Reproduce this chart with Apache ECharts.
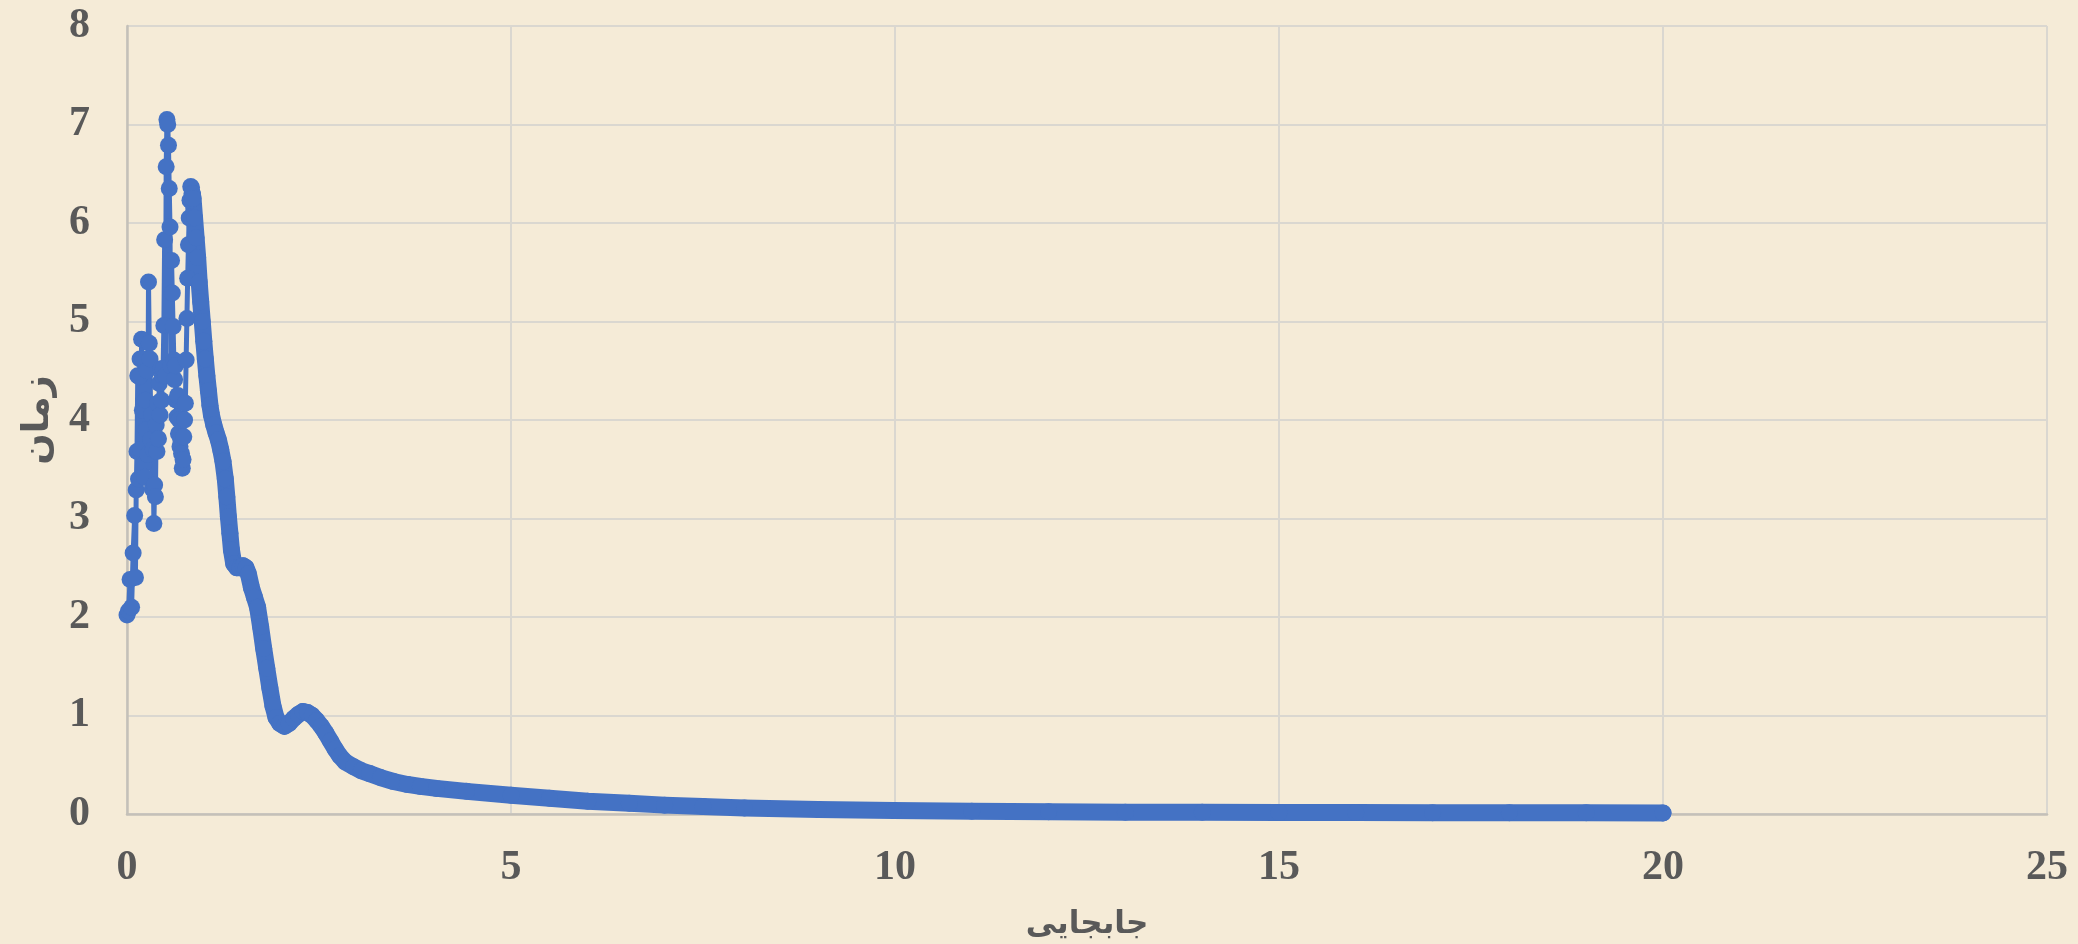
<!DOCTYPE html>
<html>
<head>
<meta charset="utf-8">
<script src="https://cdn.jsdelivr.net/npm/echarts@6/dist/echarts.min.js"></script>
<style>
  html, body { margin: 0; padding: 0; background: #F5EBD7; overflow: hidden; }
  #chart { width: 2078px; height: 944px; }
</style>
</head>
<body>
<div id="chart"></div>
<script>
// Axis titles
const xTitle = 'جابجایی';
const yTitle = 'زمان';

// Early oscillating part (displacement, time)
const oscX = [0.00,0.02,0.04,0.06,0.08,0.10,0.11,0.12,0.13,0.14,0.15,0.16,0.17,0.18,0.19,0.20,0.21,0.22,0.23,0.24,0.25,0.26,0.27,0.28,0.29,0.30,0.31,0.32,0.33,0.34,0.35,0.36,0.37,0.38,0.39,0.40,0.41,0.42,0.43,0.44,0.45,0.46,0.47,0.48,0.49,0.50,0.51,0.52,0.53,0.54,0.55,0.56,0.57,0.58,0.59,0.60,0.61,0.62,0.63,0.64,0.65,0.66,0.67,0.68,0.69,0.70,0.71,0.72,0.73,0.74,0.75,0.76,0.77,0.78,0.79,0.80,0.81,0.82,0.83,0.84,0.85];
const oscY = [2.02,2.06,2.38,2.10,2.65,3.03,2.40,3.29,3.68,4.45,3.40,4.44,4.62,3.70,4.82,4.10,4.62,3.55,3.42,4.20,3.90,4.50,3.65,5.40,4.78,4.62,3.80,4.05,3.30,3.70,2.95,3.34,3.22,3.95,3.68,4.17,3.81,4.37,4.05,4.52,4.20,4.45,4.52,4.96,5.83,4.45,6.57,7.05,7.00,6.79,6.35,5.96,4.55,5.62,5.29,4.95,4.61,4.41,4.55,4.20,4.03,4.25,3.86,4.00,3.73,3.80,3.66,3.51,3.60,3.83,4.00,4.17,4.61,5.03,5.44,5.78,6.05,6.23,6.37,6.36,6.30];

// Smooth decaying part (displacement, time)
const decX = [0.85,0.86,0.88,0.90,0.92,0.94,0.96,0.98,1.00,1.02,1.04,1.06,1.08,1.10,1.13,1.16,1.19,1.22,1.25,1.28,1.30,1.32,1.34,1.36,1.39,1.43,1.47,1.51,1.55,1.58,1.62,1.66,1.70,1.74,1.78,1.82,1.86,1.90,1.94,1.99,2.05,2.11,2.17,2.23,2.29,2.35,2.41,2.47,2.53,2.59,2.65,2.71,2.77,2.84,2.95,3.05,3.16,3.30,3.47,3.65,3.82,4.03,4.42,5.00,5.50,6.00,6.54,7.00,7.50,8.04,9.00,9.98,11.00,12.00,13.00,14.00,15.00,16.00,17.00,18.00,19.00,20.00];
const decY = [6.30,6.25,6.05,5.85,5.65,5.40,5.20,5.00,4.80,4.62,4.45,4.30,4.15,4.05,3.95,3.87,3.80,3.70,3.58,3.40,3.22,3.02,2.85,2.68,2.54,2.50,2.50,2.52,2.50,2.44,2.30,2.20,2.10,1.90,1.68,1.48,1.28,1.10,0.98,0.92,0.89,0.92,0.97,1.01,1.04,1.03,1.00,0.95,0.89,0.82,0.74,0.66,0.59,0.53,0.48,0.44,0.41,0.37,0.33,0.30,0.28,0.26,0.23,0.19,0.16,0.13,0.11,0.09,0.075,0.06,0.045,0.035,0.027,0.022,0.019,0.017,0.015,0.014,0.013,0.012,0.012,0.011];

const BLUE = '#4472C4';
const LABEL = '#595959';

const chart = echarts.init(document.getElementById('chart'), null, { renderer: 'canvas' });

const axisLabelStyle = {
  color: LABEL,
  fontFamily: '"Liberation Serif", "Times New Roman", serif',
  fontWeight: 'bold',
  fontSize: 42
};

chart.setOption({
  backgroundColor: '#F5EBD7',
  animation: false,
  grid: { left: 127, right: 31, top: 26, bottom: 130, containLabel: false, outerBoundsMode: 'none' },
  xAxis: {
    type: 'value',
    min: 0, max: 25, interval: 5,
    name: xTitle,
    nameLocation: 'middle',
    nameGap: 95,
    nameTextStyle: { color: LABEL, fontFamily: '"DejaVu Sans", sans-serif', fontWeight: 'bold', fontSize: 31 },
    axisLine: { show: true, onZero: false, lineStyle: { color: '#C4C0B8', width: 2.5 } },
    axisTick: { show: false },
    axisLabel: Object.assign({ margin: 33 }, axisLabelStyle),
    splitLine: { show: true, lineStyle: { color: '#DAD7D0', width: 2 } }
  },
  yAxis: {
    type: 'value',
    min: 0, max: 8, interval: 1,
    name: yTitle,
    nameLocation: 'middle',
    nameGap: 70,
    nameTextStyle: { color: LABEL, fontFamily: '"DejaVu Sans", sans-serif', fontWeight: 'bold', fontSize: 37 },
    axisLine: { show: true, onZero: false, lineStyle: { color: '#C4C0B8', width: 2.5 } },
    axisTick: { show: false },
    axisLabel: Object.assign({ margin: 37 }, axisLabelStyle),
    splitLine: { show: true, lineStyle: { color: '#DAD7D0', width: 2 } }
  },
  series: [
    {
      type: 'line',
      data: oscX.map((x, i) => [x, oscY[i]]),
      symbol: 'circle',
      symbolSize: 17,
      showSymbol: true,
      itemStyle: { color: BLUE },
      lineStyle: { color: BLUE, width: 5, cap: 'round', join: 'round' },
      z: 3
    },
    {
      type: 'line',
      data: decX.map((x, i) => [x, decY[i]]),
      symbol: 'circle',
      symbolSize: 17,
      showSymbol: true,
      itemStyle: { color: BLUE },
      lineStyle: { color: BLUE, width: 17, cap: 'round', join: 'round' },
      z: 3
    }
  ]
});
</script>
</body>
</html>
